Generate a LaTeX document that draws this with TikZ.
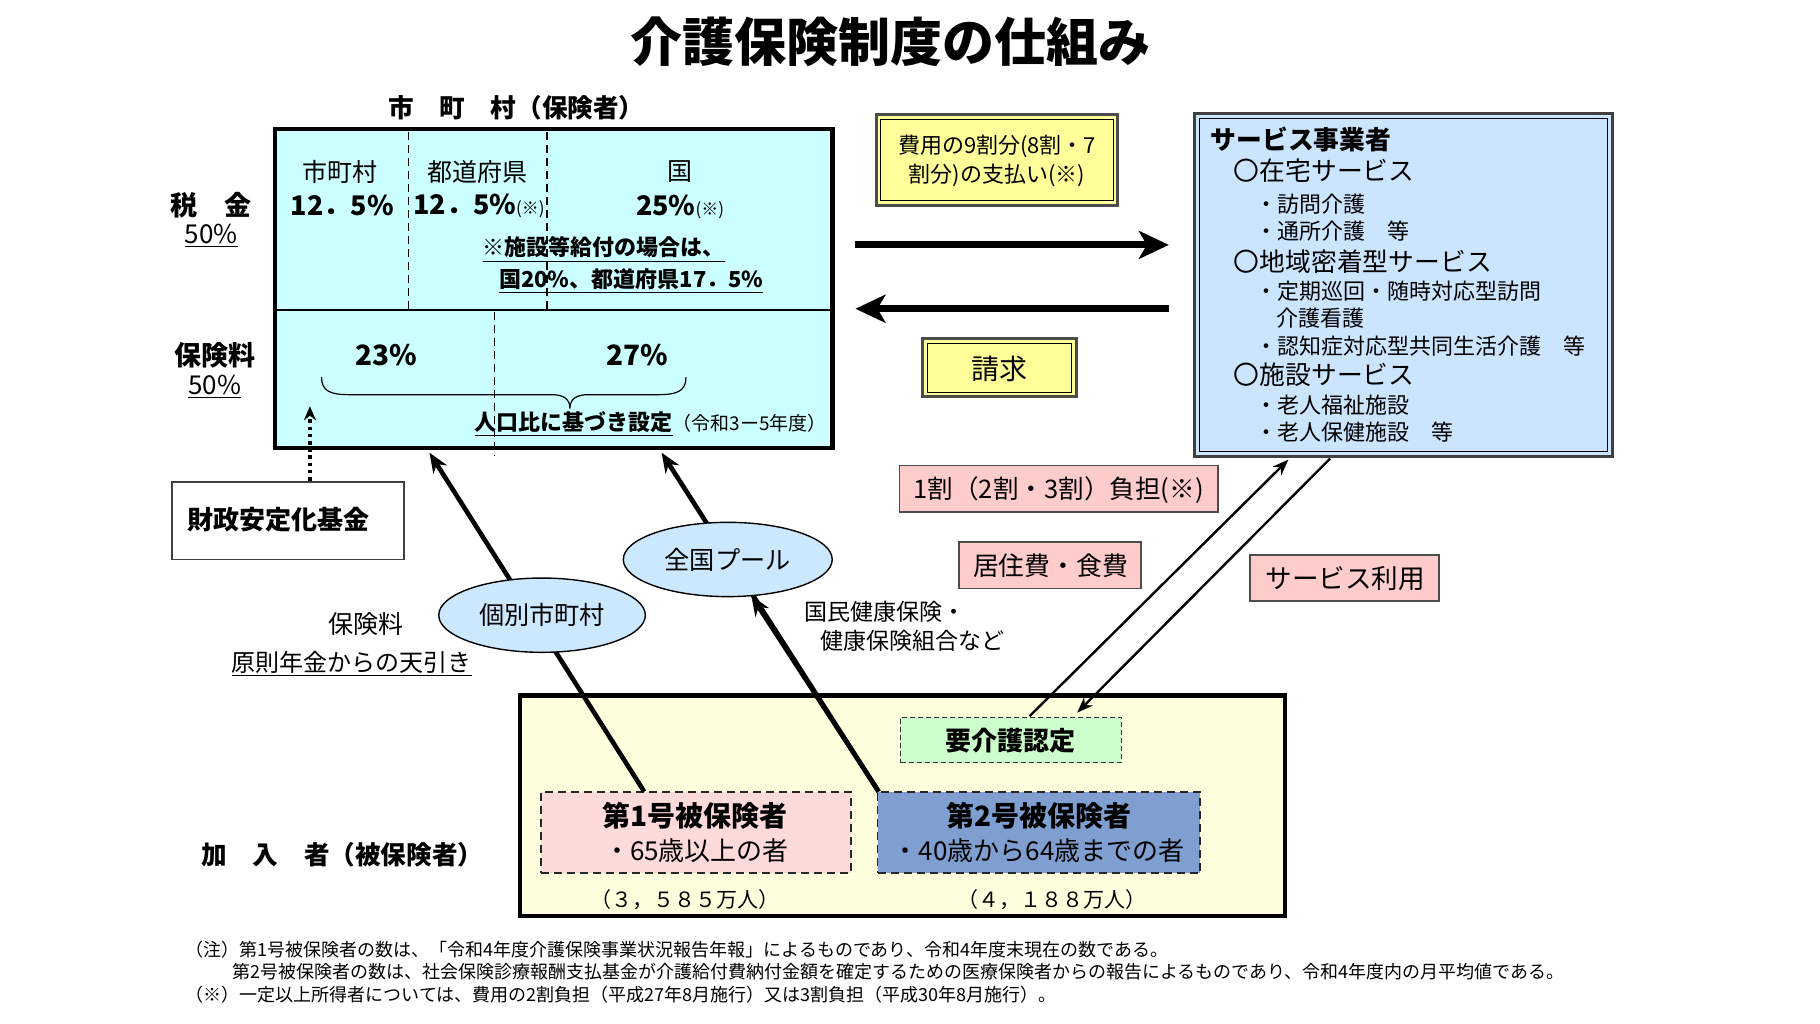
\documentclass[tikz,border=0pt]{standalone}
\usepackage{fontspec}
\setmainfont{Noto Sans CJK JP}
\usetikzlibrary{arrows.meta,shapes.geometric,fit,calc}
\newcommand\fsz[2]{\fontsize{#1pt}{#2pt}\selectfont}
\definecolor{cyanfill}{HTML}{CCFFFF}
\definecolor{svcfill}{HTML}{CCE5FF}
\definecolor{ellfill}{HTML}{CCE8FF}
\definecolor{yelfill}{HTML}{FFFF99}
\definecolor{pinkfill}{HTML}{FFCCCC}
\definecolor{greenfill}{HTML}{CCFFCC}
\definecolor{insafill}{HTML}{FFDADA}
\definecolor{insbfill}{HTML}{7F9FD0}
\definecolor{botfill}{HTML}{FFFFDD}
\begin{document}
\begin{tikzpicture}[x=0.58035pt,y=-0.58035pt,
  every node/.style={inner sep=0pt,outer sep=0pt},
  heavybox/.style={draw=black,line width=2.3pt},
  dashline/.style={line width=0.8pt,dash pattern=on 4pt off 2.5pt},
  pinkbox/.style={fill=pinkfill,draw=black!70,line width=0.9pt},
  yelbox/.style={fill=yelfill,draw=black!70,line width=1.5pt},
  ellnode/.style={ellipse,fill=ellfill,draw=black,line width=0.7pt,font=\fsz{12.6}{15}},
  insarrow/.style={line width=2.3pt,-{Stealth[length=10pt,width=8pt]}},
  insline/.style={line width=2.3pt},
  bigarrow/.style={line width=3.5pt,-{Stealth[length=15pt,width=14pt,inset=4pt]}},
  usearrow/.style={line width=1.2pt,-{Stealth[length=8pt,width=6pt]}},
  svctxt/.style={anchor=west,font=\fsz{11}{13}},
  svchead/.style={anchor=west,font=\fsz{12.9}{15}},
  foot/.style={anchor=west,font=\fsz{9}{11}}
]
\useasboundingbox (0,0) rectangle (1568,882);

% title
\node[font=\fsz{26}{30}\bfseries] (title) at (767,36) {介護保険制度の仕組み};
\node[font=\fsz{12.8}{15}\bfseries] (hokensha) at (445,93) {市　町　村（保険者）};

% municipality box
\node[fit={(237,111) (717,386)},fill=cyanfill,heavybox] (muni) {};
\draw[line width=0.9pt] (238,267) -- (716,267);
\draw[dashline] (352,114) -- (352,266);
\draw[dashline] (471,114) -- (471,266);
\draw[dashline] (426,269) -- (426,393);

\node[font=\fsz{12.5}{15}] (t1) at (293,148) {市町村};
\node[font=\fsz{13.5}{15}\bfseries] (t2) at (295,177) {12．5\%};
\node[font=\fsz{12.5}{15}] (t3) at (411,148) {都道府県};
\node[anchor=west,font=\fsz{13.5}{15}\bfseries] (t4) at (356,177) {12．5\%{\mdseries\fsz{8.5}{10}(※)}};
\node[font=\fsz{12.5}{15}] (t5) at (586,148) {国};
\node[anchor=west,font=\fsz{13.5}{15}\bfseries] (t6) at (548,178) {25\%{\mdseries\fsz{8.5}{10}(※)}};
\node[anchor=west,font=\fsz{11}{13}\bfseries] (t7) at (416,215) {\underline{※施設等給付の場合は、}};
\node[anchor=west,font=\fsz{11}{13}\bfseries] (t8) at (430,242) {\underline{国20\%、都道府県17．5\%}};
\node[font=\fsz{14}{16}\bfseries] (t9) at (333,306) {23\%};
\node[font=\fsz{14}{16}\bfseries] (t10) at (549,306) {27\%};
\draw[line width=0.6pt] (277,325) .. controls (277,337) and (285,340) .. (300,340) -- (475,340)
  .. controls (486,340) and (491,344) .. (491,352) .. controls (491,344) and (496,340) .. (507,340)
  -- (568,340) .. controls (583,340) and (591,337) .. (591,325);
\node[anchor=west,font=\fsz{11}{13}\bfseries] (t11) at (409,365) {\underline{人口比に基づき設定}{\mdseries\fsz{9.5}{11}（令和3ー5年度）}};

% left labels
\node[font=\fsz{13.5}{15}\bfseries] (zei) at (182,177) {税　金};
\node[font=\fsz{13}{15}] (zeip) at (182,203) {\underline{50\%}};
\node[font=\fsz{13.5}{15}\bfseries] (hok) at (185,306) {保険料};
\node[font=\fsz{13}{15}] (hokp) at (185,333) {\underline{50\%}};

% fund
\node[fit={(148,415) (348,482)},fill=white,draw=black!75,line width=0.8pt,
  font=\fsz{13}{15}\bfseries] (fund) {};
\node[font=\fsz{13}{15}\bfseries] (fundtxt) at (240,448) {財政安定化基金};
\coordinate (fundtop) at (267,414);
\coordinate (fundtip) at (267,350);
\draw[line width=1.7pt,dash pattern=on 1.8pt off 1.8pt,-{Stealth[length=7pt,width=6pt]}] (fundtop) -- (fundtip);

% bottom box
\node[fit={(448,599) (1107,789)},fill=botfill,heavybox] (ins) {};
\node[fit={(776,618) (966,657)},fill=greenfill,draw=black!80,line width=0.6pt,
  dash pattern=on 2.5pt off 1.5pt] (care) {};
\node[font=\fsz{13}{15}\bfseries] (caretxt) at (871,638) {要介護認定};
\node[fit={(466,682) (733,752)},fill=insafill,draw=black!85,line width=0.9pt,
  dash pattern=on 4pt off 2.5pt] (insa) {};
\node[fit={(756,682) (1034,752)},fill=insbfill,draw=black!85,line width=0.9pt,
  dash pattern=on 4pt off 2.5pt] (insb) {};
\node[font=\fsz{14}{16}\bfseries] (insa1) at (599,703) {第1号被保険者};
\node[font=\fsz{13}{15}] (insa2) at (600,733) {・65歳以上の者};
\node[font=\fsz{14}{16}\bfseries] (insb1) at (895,703) {第2号被保険者};
\node[font=\fsz{13}{15}] (insb2) at (895,733) {・40歳から64歳までの者};
\node[font=\fsz{10.5}{12}] (numa) at (590,775) {（３，５８５万人）};
\node[font=\fsz{10.5}{12}] (numb) at (906,775) {（４，１８８万人）};
\node[font=\fsz{12.8}{15}\bfseries] (kanyu) at (295,736) {加　入　者（被保険者）};

% insured -> municipality arrows
\coordinate (insatop) at (555,682);
\coordinate (insbtop) at (757,682);
\coordinate (tipa) at (370,390);
\coordinate (tipb) at (570,390);
\draw[insarrow] (insatop) -- (tipa);
\draw[insarrow] (insbtop) -- (tipb);
\node[ellnode,minimum width=178*0.58035pt,minimum height=64*0.58035pt] (indiv) at (467,530) {個別市町村};
\node[ellnode,minimum width=180*0.58035pt,minimum height=64*0.58035pt] (pool) at (627,482) {全国プール};
\draw[insarrow] (insbtop) -- (pool);

\node[font=\fsz{12.5}{15}] (hoklbl) at (315,538) {保険料};
\node[font=\fsz{12}{14}] (tenbiki) at (303,572) {\underline{原則年金からの天引き}};
\node[anchor=west,font=\fsz{11.5}{14}] (kokuho1) at (693,527) {国民健康保険・};
\node[anchor=west,font=\fsz{11.5}{14}] (kokuho2) at (707,552) {健康保険組合など};

% payment box
\node[fit={(755,99) (963,177)},yelbox] (pay) {};
\draw[line width=0.5pt] (759,103) rectangle (959,173);
\node[align=center,font=\fsz{11}{14.5}] (paytxt) at (859,139) {費用の9割分(8割・7\\割分)の支払い(※)};

% service box
\node[fit={(1029,98) (1389,393)},fill=svcfill,draw=black!75,line width=1.4pt] (svc) {};
\draw[line width=0.5pt] (1033,102) rectangle (1385,389);
\node[anchor=west,font=\fsz{12.9}{15}\bfseries] (s0) at (1043,120) {サービス事業者};
\node[svchead] (s1) at (1063,147) {〇在宅サービス};
\node[svctxt] (s2) at (1082,176) {・訪問介護};
\node[svctxt] (s3) at (1082,199) {・通所介護　等};
\node[svchead] (s4) at (1063,225) {〇地域密着型サービス};
\node[svctxt] (s5) at (1082,251) {・定期巡回・随時対応型訪問};
\node[svctxt] (s6) at (1100,274) {介護看護};
\node[svctxt] (s7) at (1082,298) {・認知症対応型共同生活介護　等};
\node[svchead] (s8) at (1063,323) {〇施設サービス};
\node[svctxt] (s9) at (1082,349) {・老人福祉施設};
\node[svctxt] (s10) at (1082,372) {・老人保健施設　等};

% thick arrows
\coordinate (ya) at (0,211);
\coordinate (yb) at (0,266);
\draw[bigarrow,shorten <=20*0.58035pt,shorten >=22*0.58035pt] (muni.east |- ya) -- (svc.west |- ya);
\draw[bigarrow,shorten <=22*0.58035pt,shorten >=20*0.58035pt] (svc.west |- yb) -- (muni.east |- yb);

% claim box
\node[fit={(795,292) (927,342)},yelbox] (claim) {};
\draw[line width=0.5pt] (799,296) rectangle (923,338);
\node[font=\fsz{14}{16}] (claimtxt) at (861,318) {請求};

% pink labels
\node[fit={(775,401) (1049,441)},pinkbox] (pa) {};
\node[font=\fsz{12.8}{15}] (patxt) at (912,422) {1割（2割・3割）負担(※)};
\node[fit={(826,467) (983,507)},pinkbox] (pb) {};
\node[font=\fsz{12.9}{15}] (pbtxt) at (905,487) {居住費・食費};
\node[fit={(1077,478) (1240,518)},pinkbox] (pc) {};
\node[font=\fsz{13.3}{15}] (pctxt) at (1159,498) {サービス利用};

% service use arrows
\coordinate (upfrom) at (887,617);
\coordinate (upto) at (1110,396);
\coordinate (dnfrom) at (1146,395);
\coordinate (dnto) at (928,614);
\draw[usearrow] (upfrom) -- (upto);
\draw[usearrow] (dnfrom) -- (dnto);

% footnotes
\node[foot] (f1) at (160,818) {（注）第1号被保険者の数は、「令和4年度介護保険事業状況報告年報」によるものであり、令和4年度末現在の数である。};
\node[foot] (f2) at (200,837) {第2号被保険者の数は、社会保険診療報酬支払基金が介護給付費納付金額を確定するための医療保険者からの報告によるものであり、令和4年度内の月平均値である。};
\node[foot] (f3) at (160,857) {（※）一定以上所得者については、費用の2割負担（平成27年8月施行）又は3割負担（平成30年8月施行）。};
\end{tikzpicture}
\end{document}
